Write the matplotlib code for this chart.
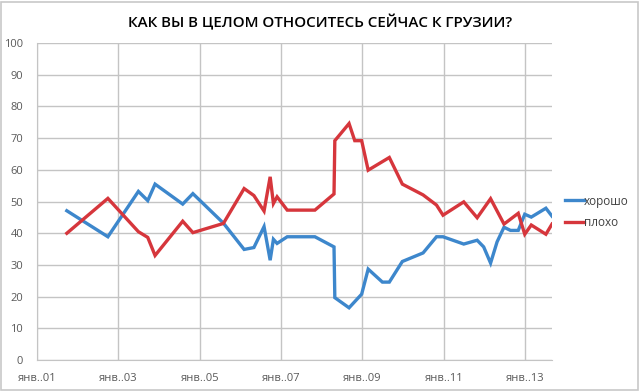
import matplotlib
matplotlib.use("Agg")
import matplotlib.pyplot as plt
from matplotlib.patches import Rectangle

title = "КАК ВЫ В ЦЕЛОМ ОТНОСИТЕСЬ СЕЙЧАС К ГРУЗИИ?"

# survey dates as fractional years
dates_good = [2001.73, 2002.74, 2003.49, 2003.72, 2003.90, 2004.58, 2004.83, 2005.58,
              2006.09, 2006.33, 2006.58, 2006.73, 2006.81, 2006.90, 2007.15, 2007.83,
              2008.30, 2008.32, 2008.67, 2008.98, 2009.14, 2009.49, 2009.66, 2009.98,
              2010.49, 2010.82, 2010.98, 2011.49, 2011.82, 2011.98, 2012.15, 2012.31,
              2012.48, 2012.64, 2012.83, 2012.99, 2013.15, 2013.51, 2013.66]
good = [47.1, 38.9, 53.2, 50.3, 55.5, 49.2, 52.5, 43.2,
        34.9, 35.5, 42.1, 31.5, 38.1, 36.8, 38.9, 38.9,
        35.7, 19.7, 16.5, 20.8, 28.7, 24.6, 24.6, 31.1,
        33.8, 38.9, 38.9, 36.6, 37.8, 35.7, 30.6, 37.3,
        41.9, 40.9, 40.9, 46.0, 45.1, 47.9, 45.4]

dates_bad = [2001.73, 2002.74, 2003.49, 2003.72, 2003.90, 2004.58, 2004.83, 2005.58,
             2006.09, 2006.33, 2006.58, 2006.73, 2006.81, 2006.90, 2007.15, 2007.83,
             2008.30, 2008.32, 2008.67, 2008.81, 2008.98, 2009.14, 2009.66, 2009.98,
             2010.49, 2010.82, 2010.98, 2011.49, 2011.82, 2012.15, 2012.48, 2012.83,
             2012.99, 2013.15, 2013.51, 2013.66]
bad = [40.0, 51.0, 40.5, 38.7, 33.0, 43.8, 40.2, 43.1,
       54.1, 51.9, 47.0, 57.8, 49.4, 51.5, 47.3, 47.3,
       52.4, 69.2, 74.6, 69.2, 69.2, 59.9, 63.9, 55.5,
       52.1, 48.9, 45.7, 49.9, 44.9, 50.9, 42.9, 46.3,
       39.7, 42.6, 39.7, 42.9]

tick_years = [2001, 2003, 2005, 2007, 2009, 2011, 2013]
tick_labels = ["янв..01", "янв..03", "янв..05", "янв..07", "янв..09", "янв..11", "янв..13"]

plt.rcParams['font.family'] = ['Open Sans', 'DejaVu Sans']

fig = plt.figure(figsize=(6.4, 3.91), dpi=100)
fig.patches.append(Rectangle((0.002, 0.003), 0.995, 0.993, transform=fig.transFigure,
                             fill=False, edgecolor="#c8c8c8", linewidth=1.2))
ax = fig.add_axes([0.058, 0.079, 0.8045, 0.811])

ax.plot(dates_good, good, color="#3d87cc", linewidth=2.4, label="хорошо", solid_joinstyle="miter")
ax.plot(dates_bad, bad, color="#d6363c", linewidth=2.4, label="плохо", solid_joinstyle="miter")

ax.set_xlim(2001, 2013.66)
ax.set_ylim(0, 100)
ax.set_yticks(range(0, 101, 10))
ax.set_xticks(tick_years)
ax.set_xticklabels(tick_labels)
ax.grid(True, color="#c4c4c4", linewidth=1.0)
ax.set_axisbelow(True)
for s in ["top", "right"]:
    ax.spines[s].set_visible(False)
for s in ["left", "bottom"]:
    ax.spines[s].set_color("#c4c4c4")
ax.tick_params(length=0, labelsize=8, colors="#595959", pad=9)
ax.tick_params(axis="y", pad=10)

fig.text(0.5, 0.944, title, ha="center", va="center", fontsize=10.9,
         fontweight="semibold", color="#000000")

ax.legend(loc="center left", bbox_to_anchor=(1.005, 0.467), frameon=False, fontsize=8.5,
          handlelength=1.6, handletextpad=0.0, labelspacing=0.75, labelcolor="#404040")

fig.savefig("out.png", dpi=100)
